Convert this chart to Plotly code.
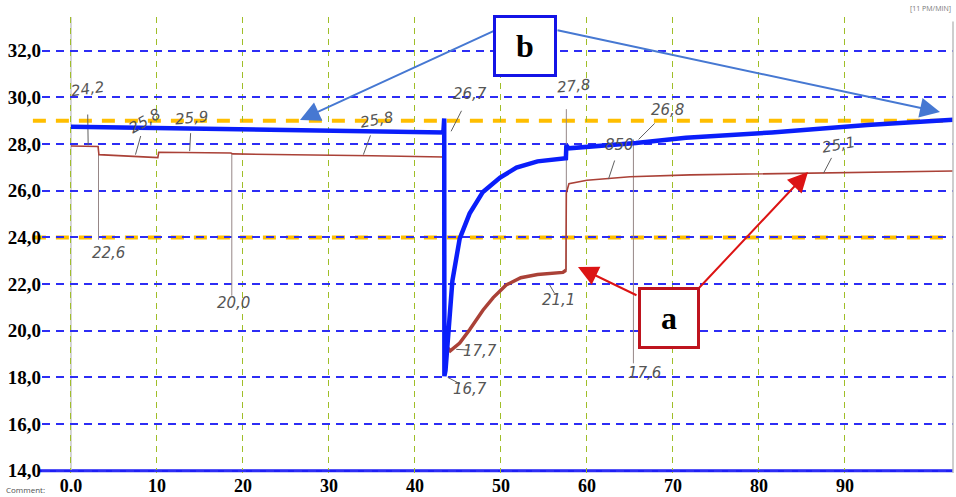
import plotly.graph_objects as go

# ---------------- data ----------------
x_ticks = [0, 10, 20, 30, 40, 50, 60, 70, 80, 90]
x_tick_text = ["0.0", "10", "20", "30", "40", "50", "60", "70", "80", "90"]
y_ticks = [14, 16, 18, 20, 22, 24, 26, 28, 30, 32]
y_tick_text = ["14,0", "16,0", "18,0", "20,0", "22,0", "24,0", "26,0", "28,0", "30,0", "32,0"]

# blue curve (b)
blue_x = [0, 15, 28, 43.3, 43.4, 43.42, 43.55, 44.0, 44.35, 45.2, 46.35, 47.9, 49.9, 51.8,
          54.25, 57.55, 57.6, 57.85, 65.7, 71.5, 81.5, 92.6, 102.6]
blue_y = [28.75, 28.65, 28.57, 28.5, 29.1, 18.05, 18.3, 20.46, 22.14, 23.95, 25.02, 25.95, 26.57, 26.99,
          27.26, 27.4, 27.95, 27.82, 28.05, 28.27, 28.5, 28.82, 29.05]

# red (measured) curve (a)
red_x = [0, 3.15, 3.25, 6, 10.1, 10.2, 14, 18.6, 18.8, 25, 30, 35, 43.3, 43.45,
         44.1, 45.2, 46.35, 47.9, 49.1, 50.6, 52.3, 54.25, 57.2, 57.55,
         57.6, 57.9, 60, 65, 72, 85, 95, 102.6]
red_y = [27.92, 27.9, 27.55, 27.5, 27.42, 27.65, 27.65, 27.62, 27.58, 27.56, 27.54, 27.5, 27.45, 19.4,
         19.14, 19.47, 20.04, 20.88, 21.42, 21.96, 22.27, 22.41, 22.5, 22.59,
         25.9, 26.3, 26.45, 26.6, 26.68, 26.75, 26.8, 26.85]
red_thick_from, red_thick_to = 13, 24   # index range of the noisy recovery segment

# thin vertical spikes of the recording
spike_x = [3.2, 18.7, 57.6, 65.4]
spike_top = [27.9, 27.6, 29.5, 28.2]
spike_bottom = [23.9, 21.5, 22.59, 18.6]

# limit lines (orange dashed)
limit_values = [29.0, 24.0]

# handwritten readings (text position) and the point their stroke points to
hw_text = ["24,2", "22,6", "25,8", "25,9", "20,0", "25,8", "26,7", "27,8", "850", "26,8",
           "25,1", "17,7", "16,7", "21,1", "17,6"]
hw_x = [1.9, 4.4, 8.6, 14.0, 18.9, 35.5, 46.4, 58.4, 63.8, 69.4, 89.2, 47.6, 46.4, 56.7, 66.7]
hw_y = [30.35, 23.35, 29.0, 29.1, 21.2, 29.05, 30.15, 30.5, 27.95, 29.45, 27.95, 19.15, 17.5, 21.3, 18.2]
hw_angle = [-8, 0, -30, -5, 0, -10, 0, -5, 0, 0, -10, 0, 0, 0, 0]
hw_tip_x = [2.0, None, 7.5, 13.8, None, 34.0, 44.2, None, 62.5, 66.0, 87.5, 44.8, 43.8, 55.6, None]
hw_tip_y = [27.95, None, 27.55, 27.7, None, 27.55, 28.55, None, 26.5, 28.2, 26.75, 19.2, 18.0, 22.0, None]

# ---------------- figure ----------------
fig = go.Figure()

serif = "Liberation Serif"
BLUE = "rgb(10,30,250)"
RED = "rgb(170,65,55)"
PEN = "rgb(95,95,95)"

# spikes
sx, sy = [], []
for xv, t, b in zip(spike_x, spike_top, spike_bottom):
    sx += [xv, xv, None]
    sy += [t, b, None]
fig.add_trace(go.Scatter(x=sx, y=sy, mode="lines",
                         line=dict(color="rgb(150,135,135)", width=1), hoverinfo="skip", showlegend=False))

fig.add_trace(go.Scatter(x=red_x, y=red_y, mode="lines",
                         line=dict(color=RED, width=1.6), showlegend=False))
fig.add_trace(go.Scatter(x=red_x[red_thick_from:red_thick_to], y=red_y[red_thick_from:red_thick_to],
                         mode="lines", line=dict(color=RED, width=3.5), showlegend=False))

# pen strokes from handwritten readings to the curves
px_, py_ = [], []
for xv, yv, tx, ty in zip(hw_x, hw_y, hw_tip_x, hw_tip_y):
    if tx is None:
        continue
    px_ += [xv + (tx - xv) * 0.45, tx, None]
    py_ += [yv + (ty - yv) * 0.45, ty, None]
fig.add_trace(go.Scatter(x=px_, y=py_, mode="lines", line=dict(color=PEN, width=1),
                         hoverinfo="skip", showlegend=False))

fig.add_trace(go.Scatter(x=blue_x, y=blue_y, mode="lines",
                         line=dict(color=BLUE, width=4.5), showlegend=False))

shapes = []
for v in limit_values:
    shapes.append(dict(type="line", xref="paper", yref="y", x0=-0.01, x1=1, y0=v, y1=v,
                       line=dict(color="rgb(255,190,0)", width=4, dash="13px,10px"), layer="below"))
# bottom solid line at 14,0
shapes.append(dict(type="line", xref="paper", yref="y", x0=-0.003, x1=1, y0=y_ticks[0], y1=y_ticks[0],
                   line=dict(color="rgb(30,30,245)", width=3), layer="below"))
# left axis line and right frame
shapes.append(dict(type="line", xref="x", yref="paper", x0=0, x1=0, y0=0, y1=1,
                   line=dict(color="rgb(200,200,200)", width=1.5), layer="below"))
shapes.append(dict(type="line", xref="paper", yref="paper", x0=1, x1=1, y0=0, y1=0.99,
                   line=dict(color="rgb(190,190,190)", width=1.5), layer="above"))

ann = []
for t, xv, yv, ang in zip(hw_text, hw_x, hw_y, hw_angle):
    ann.append(dict(x=xv, y=yv, xref="x", yref="y", text=t, showarrow=False, textangle=ang,
                    font=dict(family="DejaVu Sans", size=15, color="rgb(85,85,85)", style="italic")))

# arrows
def arrow(tip_px, tail_px, color):
    return dict(x=(tip_px[0] - 42) / 911, y=(473 - tip_px[1]) / 456, xref="paper", yref="paper",
                ax=tail_px[0] - tip_px[0], ay=tail_px[1] - tip_px[1], text="", showarrow=True,
                arrowhead=2, arrowsize=2, arrowwidth=2, arrowcolor=color, standoff=0, startstandoff=0)

ann.append(arrow((300, 120), (496, 30), "rgb(70,120,210)"))
ann.append(arrow((940, 112), (556, 30), "rgb(70,120,210)"))
ann.append(arrow((578, 267), (638, 296), "rgb(220,20,20)"))
ann.append(arrow((808, 172), (698, 289), "rgb(220,20,20)"))

# boxes a and b
ann.append(dict(x=(524.5 - 42) / 911, y=(473 - 46.5) / 456, xref="paper", yref="paper", text="<b>b</b>",
                xanchor="center", yanchor="middle",
                showarrow=False, width=58, height=56, bgcolor="white",
                bordercolor="rgb(20,20,230)", borderwidth=3, borderpad=0,
                font=dict(family=serif, size=32, color="black")))
ann.append(dict(x=(668.5 - 42) / 911, y=(473 - 318.5) / 456, xref="paper", yref="paper", text="<b>a</b>",
                xanchor="center", yanchor="middle",
                showarrow=False, width=56, height=56, bgcolor="white",
                bordercolor="rgb(190,20,30)", borderwidth=3, borderpad=0,
                font=dict(family=serif, size=32, color="black")))

# tiny printed texts
ann.append(dict(x=1, y=1.005, xref="paper", yref="paper", xanchor="right", yanchor="bottom",
                text="[11 PM/MIN]", showarrow=False, font=dict(size=7, color="rgb(120,120,120)")))
ann.append(dict(x=(4 - 42) / 911, y=-0.037, xref="paper", yref="paper", xanchor="left", yanchor="middle",
                text="Comment:", showarrow=False, font=dict(size=8, color="rgb(80,80,80)")))

fig.update_layout(
    width=956, height=497,
    margin=dict(l=42, r=3, t=17, b=24),
    paper_bgcolor="white", plot_bgcolor="white",
    showlegend=False,
    shapes=shapes, annotations=ann,
    xaxis=dict(range=[-3.37, 102.56], tickvals=x_ticks, ticktext=x_tick_text,
               showgrid=True, gridcolor="rgb(160,190,40)", gridwidth=1, griddash="6px,5px",
               zeroline=False, showline=False, ticks="", ticklabelstandoff=0, automargin=False,
               tickfont=dict(family=serif, size=18, color="black", weight="bold")),
    yaxis=dict(range=[13.9, 33.45], tickvals=y_ticks, ticktext=y_tick_text,
               showgrid=True, gridcolor="rgb(45,45,245)", gridwidth=2, griddash="8px,6px",
               zeroline=False, showline=False, ticks="", automargin=False,
               tickfont=dict(family=serif, size=19, color="black", weight="bold")),
)

fig.write_html("out.html")
